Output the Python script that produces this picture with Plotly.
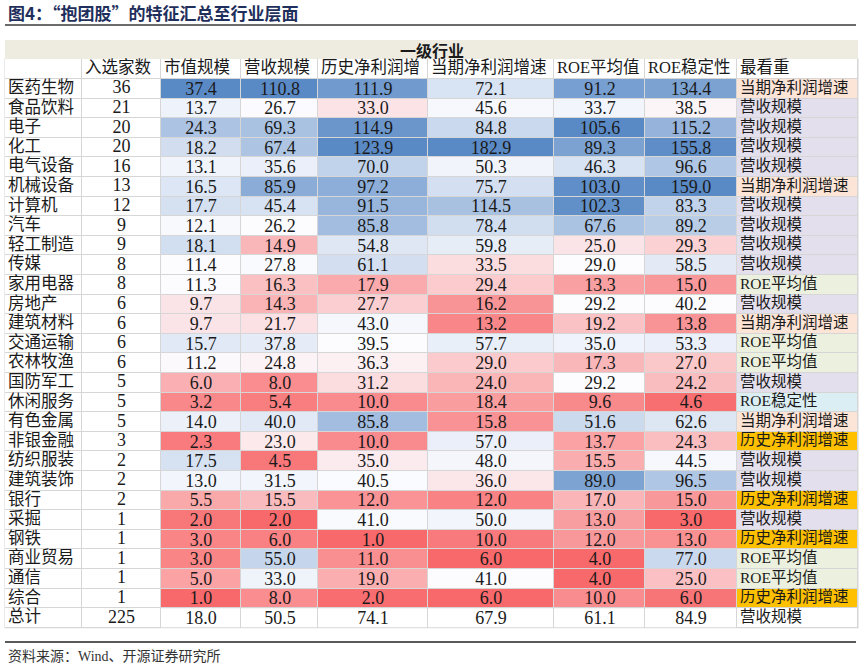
import numpy as np
import plotly.graph_objects as go

# ---------------- data ----------------
industries = ["医药生物", "食品饮料", "电子", "化工", "电气设备", "机械设备", "计算机", "汽车",
              "轻工制造", "传媒", "家用电器", "房地产", "建筑材料", "交通运输", "农林牧渔",
              "国防军工", "休闲服务", "有色金属", "非银金融", "纺织服装", "建筑装饰", "银行",
              "采掘", "钢铁", "商业贸易", "通信", "综合"]
counts = [36, 21, 20, 20, 16, 13, 12, 9, 9, 8, 8, 6, 6, 6, 6, 5, 5, 5, 3, 2, 2, 2, 1, 1, 1, 1, 1]
mkt_cap = [37.4, 13.7, 24.3, 18.2, 13.1, 16.5, 17.7, 12.1, 18.1, 11.4, 11.3, 9.7, 9.7, 15.7,
           11.2, 6.0, 3.2, 14.0, 2.3, 17.5, 13.0, 5.5, 2.0, 3.0, 3.0, 5.0, 1.0]
revenue = [110.8, 26.7, 69.3, 67.4, 35.6, 85.9, 45.4, 26.2, 14.9, 27.8, 16.3, 14.3, 21.7, 37.8,
           24.8, 8.0, 5.4, 40.0, 23.0, 4.5, 31.5, 15.5, 2.0, 6.0, 55.0, 33.0, 8.0]
hist_growth = [111.9, 33.0, 114.9, 123.9, 70.0, 97.2, 91.5, 85.8, 54.8, 61.1, 17.9, 27.7, 43.0,
               39.5, 36.3, 31.2, 10.0, 85.8, 10.0, 35.0, 40.5, 12.0, 41.0, 1.0, 11.0, 19.0, 2.0]
curr_growth = [72.1, 45.6, 84.8, 182.9, 50.3, 75.7, 114.5, 78.4, 59.8, 33.5, 29.4, 16.2, 13.2,
               57.7, 29.0, 24.0, 18.4, 15.8, 57.0, 48.0, 36.0, 12.0, 50.0, 10.0, 6.0, 41.0, 6.0]
roe_mean = [91.2, 33.7, 105.6, 89.3, 46.3, 103.0, 102.3, 67.6, 25.0, 29.0, 13.3, 29.2, 19.2, 35.0,
            17.3, 29.2, 9.6, 51.6, 13.7, 15.5, 89.0, 17.0, 13.0, 12.0, 4.0, 4.0, 10.0]
roe_stab = [134.4, 38.5, 115.2, 155.8, 96.6, 159.0, 83.3, 89.2, 29.3, 58.5, 15.0, 40.2, 13.8, 53.3,
            27.0, 24.2, 4.6, 62.6, 24.3, 44.5, 96.5, 15.0, 3.0, 13.0, 77.0, 25.0, 6.0]
focus = ["当期净利润增速", "营收规模", "营收规模", "营收规模", "营收规模", "当期净利润增速",
         "营收规模", "营收规模", "营收规模", "营收规模", "ROE平均值", "营收规模", "当期净利润增速",
         "ROE平均值", "ROE平均值", "营收规模", "ROE稳定性", "当期净利润增速", "历史净利润增速",
         "营收规模", "营收规模", "历史净利润增速", "营收规模", "历史净利润增速", "ROE平均值",
         "ROE平均值", "历史净利润增速"]
total_label = "总计"
total_count = 225
total_values = [18.0, 50.5, 74.1, 67.9, 61.1, 84.9]
total_focus = "营收规模"
col_headers = ["入选家数", "市值规模", "营收规模", "历史净利润增", "当期净利润增速",
               "ROE平均值", "ROE稳定性", "最看重"]
group_header = "一级行业"
title_text = "图4：“抱团股”的特征汇总至行业层面"
source_text = "资料来源：Wind、开源证券研究所"

# ---------------- layout constants ----------------
W, H = 864, 665
EDGES = [5, 82, 161, 241, 318, 428, 554, 645, 737, 858]
GROUP_TOP, HEAD_TOP, TOP, RH = 40, 59, 79, 19.6
RED, MIDW, BLUE = "#F8696B", "#FCFCFF", "#5A8AC6"
CJK = "Noto Sans CJK SC"
SERIF = "Liberation Serif, Noto Sans CJK SC"
TXT = "#1a1a1a"
NUM_SIZE = 18
focus_colors = {"当期净利润增速": "#FCE4D6", "营收规模": "#E4DFEC", "ROE平均值": "#EBF1DE",
                "ROE稳定性": "#DAEEF3", "历史净利润增速": "#FFC000", "": "#FFFFFF"}

n = len(industries)
row_edges = [TOP + i * RH for i in range(n + 1)]
all_edges = [TOP + i * RH for i in range(n + 2)]
centers = [TOP + (i + 0.5) * RH for i in range(n + 1)]
white_scale = [[0, "#FFFFFF"], [1, "#FFFFFF"]]

fig = go.Figure()

# header row cells
fig.add_trace(go.Heatmap(z=[[0] * 9], x=EDGES, y=[HEAD_TOP, TOP], colorscale=white_scale,
                         showscale=False, xgap=1, ygap=1, hoverinfo="skip"))
# industry + count columns (incl. total row)
fig.add_trace(go.Heatmap(z=[[0, 0] for _ in range(n + 1)], x=EDGES[:3], y=all_edges,
                         colorscale=white_scale, showscale=False, xgap=1, ygap=1,
                         hoverinfo="skip"))

# numeric colour-scaled columns (3-colour scale: min red, median white, max blue)
numeric_cols = [mkt_cap, revenue, hist_growth, curr_growth, roe_mean, roe_stab]
for j, vals in enumerate(numeric_cols):
    v = np.array(vals, dtype=float)
    lo, hi, mid = v.min(), v.max(), np.median(v)
    p = (mid - lo) / (hi - lo)
    fig.add_trace(go.Heatmap(
        z=[[x] for x in vals], x=[EDGES[j + 2], EDGES[j + 3]], y=row_edges,
        zmin=lo, zmax=hi, colorscale=[[0, RED], [p, MIDW], [1, BLUE]], showscale=False,
        xgap=1, ygap=1, texttemplate="%{z:.1f}",
        textfont=dict(family=SERIF, size=NUM_SIZE, color=TXT), hoverinfo="skip"))

# total row numeric cells
fig.add_trace(go.Heatmap(z=[total_values], x=EDGES[2:9], y=[row_edges[-1], row_edges[-1] + RH],
                         colorscale=white_scale, showscale=False, xgap=1, ygap=1,
                         texttemplate="%{z:.1f}",
                         textfont=dict(family=SERIF, size=NUM_SIZE, color=TXT), hoverinfo="skip"))

# focus column (categorical colours)
cats = list(focus_colors.keys())
codes = [cats.index(f) for f in focus] + [cats.index("")]
cscale = []
for k, c in enumerate(cats):
    cscale.append([k / len(cats), focus_colors[c]])
    cscale.append([(k + 1) / len(cats), focus_colors[c]])
fig.add_trace(go.Heatmap(z=[[c] for c in codes], x=EDGES[8:10], y=all_edges,
                         zmin=-0.5, zmax=len(cats) - 0.5, colorscale=cscale, showscale=False,
                         xgap=1, ygap=1, hoverinfo="skip"))

# text: industries
fig.add_trace(go.Scatter(x=[EDGES[0] + 3] * (n + 1), y=centers, mode="text",
                         text=industries + [total_label], textposition="middle right",
                         textfont=dict(family=SERIF, size=16.5, color=TXT), hoverinfo="skip"))
# text: counts
fig.add_trace(go.Scatter(x=[(EDGES[1] + EDGES[2]) / 2] * (n + 1), y=centers, mode="text",
                         text=[str(c) for c in counts] + [str(total_count)],
                         textposition="middle center",
                         textfont=dict(family=SERIF, size=NUM_SIZE, color=TXT), hoverinfo="skip"))
# text: focus
fig.add_trace(go.Scatter(x=[EDGES[8] + 3] * (n + 1), y=centers, mode="text",
                         text=focus + [total_focus], textposition="middle right",
                         textfont=dict(family=SERIF, size=15.5, color=TXT), hoverinfo="skip"))
# text: column headers
fig.add_trace(go.Scatter(x=[e + 3 for e in EDGES[1:9]], y=[(HEAD_TOP + TOP) / 2] * 8,
                         mode="text", text=col_headers, textposition="middle right",
                         textfont=dict(family=SERIF, size=16.5, color=TXT), hoverinfo="skip",
                         cliponaxis=False))

shapes = [
    dict(type="rect", x0=EDGES[0] - 0.5, x1=EDGES[-1] + 0.5, y0=HEAD_TOP - 0.5,
         y1=row_edges[-1] + RH + 0.5, fillcolor="#D6D6D6", line_width=0, layer="below"),
    dict(type="rect", x0=EDGES[0], x1=EDGES[-1], y0=GROUP_TOP, y1=HEAD_TOP,
         fillcolor="#EEECE1", line_width=0, layer="below"),
    dict(type="line", x0=5, x1=856, y0=25, y1=25, line=dict(color="#3a3a3a", width=1.5)),
    dict(type="line", x0=5, x1=856, y0=642, y1=642, line=dict(color="#5a5a5a", width=2)),
]
annotations = [
    dict(x=6, y=12, text="<b>" + title_text + "</b>", showarrow=False, xanchor="left",
         yanchor="middle", font=dict(family=CJK, size=17, color="#1F2F5C")),
    dict(x=(EDGES[0] + EDGES[-1]) / 2, y=(GROUP_TOP + HEAD_TOP) / 2,
         text="<b>" + group_header + "</b>", showarrow=False, xanchor="center",
         yanchor="middle", font=dict(family=CJK, size=16, color=TXT)),
    dict(x=6, y=656, text=source_text, showarrow=False, xanchor="left", yanchor="middle",
         font=dict(family="Liberation Serif, Noto Sans CJK SC", size=14, color="#333333")),
]

fig.update_layout(
    width=W, height=H, margin=dict(l=0, r=0, t=0, b=0),
    paper_bgcolor="white", plot_bgcolor="white", showlegend=False,
    xaxis=dict(range=[0, W], visible=False, fixedrange=True),
    yaxis=dict(range=[H, 0], visible=False, fixedrange=True),
    shapes=shapes, annotations=annotations,
)
fig.write_html("out.html", config={"displayModeBar": False},
               post_script="document.body.style.margin='0';document.body.style.overflow='hidden';")
